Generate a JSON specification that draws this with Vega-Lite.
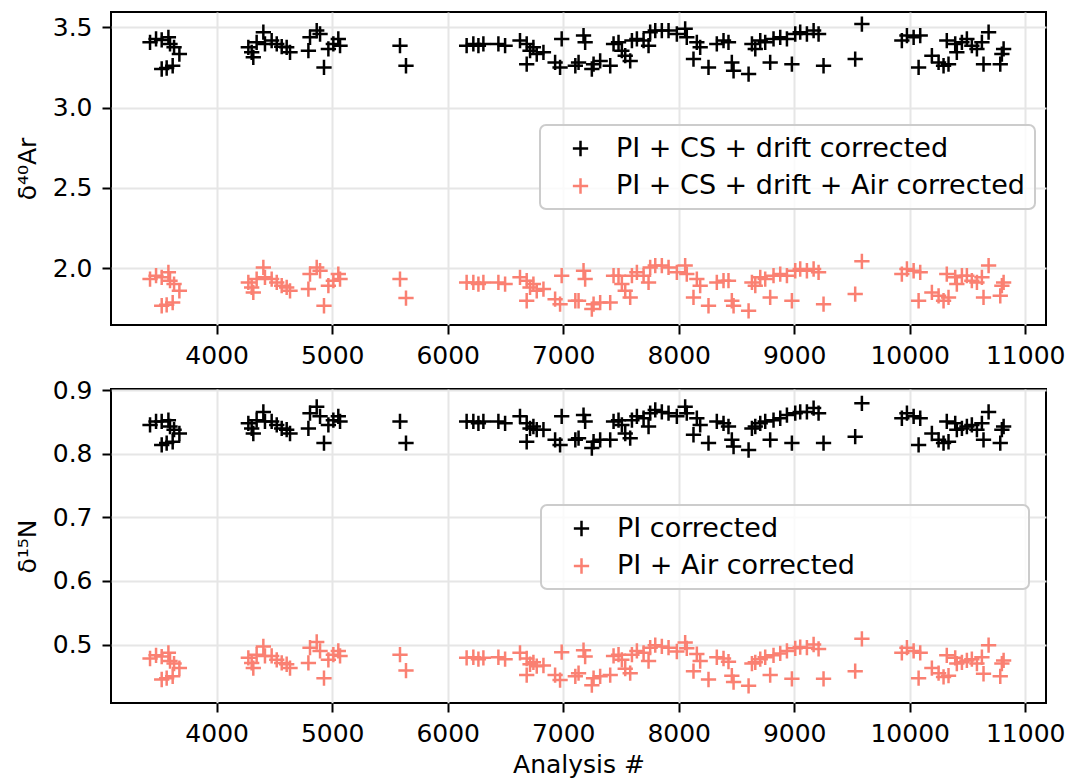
{
  "$schema": "https://vega.github.io/schema/vega-lite/v6.json",
  "background": "white",
  "padding": {"left": 14, "top": 10, "right": 20, "bottom": 0},
  "datasets": {
    "runs": [
      {"a": 3423, "ar": 3.406, "ar_air": 1.931, "n": 0.8455, "n_air": 0.478},
      {"a": 3475, "ar": 3.427, "ar_air": 1.952, "n": 0.851, "n_air": 0.483},
      {"a": 3524, "ar": 3.421, "ar_air": 1.942, "n": 0.851, "n_air": 0.481},
      {"a": 3582, "ar": 3.4375, "ar_air": 1.973, "n": 0.853, "n_air": 0.487},
      {"a": 3596, "ar": 3.396, "ar_air": 1.921, "n": 0.843, "n_air": 0.474},
      {"a": 3631, "ar": 3.375, "ar_air": 1.9, "n": 0.838, "n_air": 0.47},
      {"a": 3677, "ar": 3.333, "ar_air": 1.858, "n": 0.832, "n_air": 0.463},
      {"a": 3524, "ar": 3.24, "ar_air": 1.765, "n": 0.814, "n_air": 0.445},
      {"a": 3567, "ar": 3.246, "ar_air": 1.771, "n": 0.817, "n_air": 0.447},
      {"a": 3619, "ar": 3.26, "ar_air": 1.785, "n": 0.819, "n_air": 0.45},
      {"a": 4274, "ar": 3.375, "ar_air": 1.91, "n": 0.848, "n_air": 0.479},
      {"a": 4303, "ar": 3.344, "ar_air": 1.879, "n": 0.84, "n_air": 0.471},
      {"a": 4317, "ar": 3.3125, "ar_air": 1.848, "n": 0.832, "n_air": 0.463},
      {"a": 4346, "ar": 3.406, "ar_air": 1.931, "n": 0.853, "n_air": 0.484},
      {"a": 4404, "ar": 3.469, "ar_air": 2.004, "n": 0.866, "n_air": 0.497},
      {"a": 4418, "ar": 3.396, "ar_air": 1.942, "n": 0.851, "n_air": 0.482},
      {"a": 4476, "ar": 3.417, "ar_air": 1.931, "n": 0.851, "n_air": 0.482},
      {"a": 4520, "ar": 3.396, "ar_air": 1.91, "n": 0.8455, "n_air": 0.476},
      {"a": 4563, "ar": 3.379, "ar_air": 1.89, "n": 0.84, "n_air": 0.471},
      {"a": 4606, "ar": 3.375, "ar_air": 1.879, "n": 0.838, "n_air": 0.469},
      {"a": 4635, "ar": 3.344, "ar_air": 1.858, "n": 0.832, "n_air": 0.463},
      {"a": 4794, "ar": 3.354, "ar_air": 1.869, "n": 0.84, "n_air": 0.471},
      {"a": 4808, "ar": 3.4375, "ar_air": 1.9625, "n": 0.864, "n_air": 0.495},
      {"a": 4866, "ar": 3.479, "ar_air": 2.004, "n": 0.874, "n_air": 0.504},
      {"a": 4895, "ar": 3.458, "ar_air": 1.983, "n": 0.859, "n_air": 0.49},
      {"a": 4929, "ar": 3.25, "ar_air": 1.765, "n": 0.817, "n_air": 0.447},
      {"a": 4967, "ar": 3.365, "ar_air": 1.89, "n": 0.8455, "n_air": 0.476},
      {"a": 5010, "ar": 3.396, "ar_air": 1.921, "n": 0.853, "n_air": 0.484},
      {"a": 5053, "ar": 3.427, "ar_air": 1.9625, "n": 0.859, "n_air": 0.49},
      {"a": 5068, "ar": 3.385, "ar_air": 1.931, "n": 0.851, "n_air": 0.482},
      {"a": 5587, "ar": 3.385, "ar_air": 1.931, "n": 0.851, "n_air": 0.484},
      {"a": 5639, "ar": 3.26, "ar_air": 1.8125, "n": 0.817, "n_air": 0.459},
      {"a": 6164, "ar": 3.385, "ar_air": 1.91, "n": 0.851, "n_air": 0.479},
      {"a": 6222, "ar": 3.396, "ar_air": 1.91, "n": 0.851, "n_air": 0.48},
      {"a": 6266, "ar": 3.385, "ar_air": 1.9, "n": 0.848, "n_air": 0.477},
      {"a": 6309, "ar": 3.396, "ar_air": 1.91, "n": 0.851, "n_air": 0.479},
      {"a": 6439, "ar": 3.396, "ar_air": 1.91, "n": 0.851, "n_air": 0.48},
      {"a": 6497, "ar": 3.385, "ar_air": 1.9, "n": 0.848, "n_air": 0.477},
      {"a": 6626, "ar": 3.417, "ar_air": 1.942, "n": 0.859, "n_air": 0.487},
      {"a": 6684, "ar": 3.396, "ar_air": 1.921, "n": 0.848, "n_air": 0.478},
      {"a": 6713, "ar": 3.354, "ar_air": 1.879, "n": 0.84, "n_air": 0.469},
      {"a": 6742, "ar": 3.375, "ar_air": 1.9, "n": 0.843, "n_air": 0.472},
      {"a": 6684, "ar": 3.27, "ar_air": 1.796, "n": 0.819, "n_air": 0.452},
      {"a": 6771, "ar": 3.333, "ar_air": 1.858, "n": 0.838, "n_air": 0.466},
      {"a": 6829, "ar": 3.344, "ar_air": 1.869, "n": 0.838, "n_air": 0.467},
      {"a": 6930, "ar": 3.281, "ar_air": 1.806, "n": 0.822, "n_air": 0.452},
      {"a": 6987, "ar": 3.427, "ar_air": 1.952, "n": 0.859, "n_air": 0.488},
      {"a": 6973, "ar": 3.25, "ar_air": 1.775, "n": 0.814, "n_air": 0.444},
      {"a": 7105, "ar": 3.26, "ar_air": 1.796, "n": 0.822, "n_air": 0.45},
      {"a": 7176, "ar": 3.448, "ar_air": 1.983, "n": 0.861, "n_air": 0.491},
      {"a": 7190, "ar": 3.406, "ar_air": 1.931, "n": 0.851, "n_air": 0.481},
      {"a": 7133, "ar": 3.281, "ar_air": 1.796, "n": 0.8246, "n_air": 0.455},
      {"a": 7248, "ar": 3.24, "ar_air": 1.744, "n": 0.809, "n_air": 0.436},
      {"a": 7263, "ar": 3.27, "ar_air": 1.775, "n": 0.819, "n_air": 0.447},
      {"a": 7320, "ar": 3.29, "ar_air": 1.785, "n": 0.822, "n_air": 0.45},
      {"a": 7407, "ar": 3.26, "ar_air": 1.785, "n": 0.822, "n_air": 0.452},
      {"a": 7436, "ar": 3.396, "ar_air": 1.952, "n": 0.851, "n_air": 0.482},
      {"a": 7479, "ar": 3.406, "ar_air": 1.952, "n": 0.853, "n_air": 0.484},
      {"a": 7508, "ar": 3.354, "ar_air": 1.9, "n": 0.8455, "n_air": 0.476},
      {"a": 7537, "ar": 3.323, "ar_air": 1.858, "n": 0.832, "n_air": 0.462},
      {"a": 7580, "ar": 3.29, "ar_air": 1.817, "n": 0.8246, "n_air": 0.455},
      {"a": 7595, "ar": 3.417, "ar_air": 1.952, "n": 0.853, "n_air": 0.484},
      {"a": 7638, "ar": 3.427, "ar_air": 1.973, "n": 0.859, "n_air": 0.49},
      {"a": 7696, "ar": 3.417, "ar_air": 1.952, "n": 0.856, "n_air": 0.487},
      {"a": 7739, "ar": 3.385, "ar_air": 1.91, "n": 0.843, "n_air": 0.474},
      {"a": 7753, "ar": 3.469, "ar_air": 2.004, "n": 0.864, "n_air": 0.495},
      {"a": 7797, "ar": 3.479, "ar_air": 2.015, "n": 0.869, "n_air": 0.499},
      {"a": 7854, "ar": 3.479, "ar_air": 2.015, "n": 0.866, "n_air": 0.497},
      {"a": 7912, "ar": 3.479, "ar_air": 2.004, "n": 0.864, "n_air": 0.495},
      {"a": 7984, "ar": 3.458, "ar_air": 1.973, "n": 0.859, "n_air": 0.489},
      {"a": 8056, "ar": 3.49, "ar_air": 2.015, "n": 0.874, "n_air": 0.503},
      {"a": 8070, "ar": 3.4375, "ar_air": 1.9625, "n": 0.864, "n_air": 0.494},
      {"a": 8128, "ar": 3.302, "ar_air": 1.817, "n": 0.83, "n_air": 0.458},
      {"a": 8157, "ar": 3.406, "ar_air": 1.931, "n": 0.856, "n_air": 0.485},
      {"a": 8186, "ar": 3.375, "ar_air": 1.89, "n": 0.8455, "n_air": 0.474},
      {"a": 8258, "ar": 3.25, "ar_air": 1.765, "n": 0.817, "n_air": 0.445},
      {"a": 8330, "ar": 3.396, "ar_air": 1.91, "n": 0.851, "n_air": 0.48},
      {"a": 8388, "ar": 3.417, "ar_air": 1.921, "n": 0.848, "n_air": 0.478},
      {"a": 8431, "ar": 3.406, "ar_air": 1.921, "n": 0.843, "n_air": 0.473},
      {"a": 8460, "ar": 3.281, "ar_air": 1.796, "n": 0.822, "n_air": 0.451},
      {"a": 8475, "ar": 3.229, "ar_air": 1.765, "n": 0.8115, "n_air": 0.441},
      {"a": 8605, "ar": 3.208, "ar_air": 1.733, "n": 0.806, "n_air": 0.435},
      {"a": 8634, "ar": 3.396, "ar_air": 1.91, "n": 0.84, "n_air": 0.47},
      {"a": 8663, "ar": 3.365, "ar_air": 1.89, "n": 0.843, "n_air": 0.472},
      {"a": 8706, "ar": 3.417, "ar_air": 1.942, "n": 0.848, "n_air": 0.477},
      {"a": 8749, "ar": 3.406, "ar_air": 1.931, "n": 0.851, "n_air": 0.48},
      {"a": 8792, "ar": 3.281, "ar_air": 1.817, "n": 0.822, "n_air": 0.452},
      {"a": 8821, "ar": 3.427, "ar_air": 1.952, "n": 0.853, "n_air": 0.483},
      {"a": 8879, "ar": 3.4375, "ar_air": 1.9625, "n": 0.856, "n_air": 0.486},
      {"a": 8937, "ar": 3.427, "ar_air": 1.952, "n": 0.861, "n_air": 0.49},
      {"a": 8980, "ar": 3.27, "ar_air": 1.796, "n": 0.817, "n_air": 0.446},
      {"a": 9009, "ar": 3.458, "ar_air": 1.983, "n": 0.864, "n_air": 0.494},
      {"a": 9052, "ar": 3.469, "ar_air": 1.994, "n": 0.866, "n_air": 0.496},
      {"a": 9110, "ar": 3.458, "ar_air": 1.983, "n": 0.866, "n_air": 0.495},
      {"a": 9168, "ar": 3.479, "ar_air": 1.994, "n": 0.872, "n_air": 0.5},
      {"a": 9211, "ar": 3.458, "ar_air": 1.973, "n": 0.864, "n_air": 0.493},
      {"a": 9254, "ar": 3.26, "ar_air": 1.775, "n": 0.817, "n_air": 0.446},
      {"a": 9528, "ar": 3.302, "ar_air": 1.8375, "n": 0.827, "n_air": 0.458},
      {"a": 9586, "ar": 3.52, "ar_air": 2.042, "n": 0.8795, "n_air": 0.509},
      {"a": 9932, "ar": 3.417, "ar_air": 1.9625, "n": 0.856, "n_air": 0.487},
      {"a": 9976, "ar": 3.448, "ar_air": 1.994, "n": 0.864, "n_air": 0.495},
      {"a": 10034, "ar": 3.4375, "ar_air": 1.983, "n": 0.859, "n_air": 0.49},
      {"a": 10091, "ar": 3.448, "ar_air": 1.973, "n": 0.856, "n_air": 0.487},
      {"a": 10077, "ar": 3.25, "ar_air": 1.796, "n": 0.814, "n_air": 0.447},
      {"a": 10192, "ar": 3.323, "ar_air": 1.848, "n": 0.832, "n_air": 0.463},
      {"a": 10250, "ar": 3.281, "ar_air": 1.827, "n": 0.822, "n_air": 0.455},
      {"a": 10293, "ar": 3.26, "ar_air": 1.796, "n": 0.817, "n_air": 0.449},
      {"a": 10336, "ar": 3.27, "ar_air": 1.817, "n": 0.819, "n_air": 0.451},
      {"a": 10321, "ar": 3.417, "ar_air": 1.9625, "n": 0.851, "n_air": 0.483},
      {"a": 10394, "ar": 3.396, "ar_air": 1.942, "n": 0.848, "n_air": 0.479},
      {"a": 10408, "ar": 3.344, "ar_air": 1.9, "n": 0.838, "n_air": 0.47},
      {"a": 10452, "ar": 3.406, "ar_air": 1.952, "n": 0.84, "n_air": 0.472},
      {"a": 10495, "ar": 3.427, "ar_air": 1.952, "n": 0.843, "n_air": 0.475},
      {"a": 10538, "ar": 3.385, "ar_air": 1.921, "n": 0.8455, "n_air": 0.477},
      {"a": 10582, "ar": 3.365, "ar_air": 1.91, "n": 0.838, "n_air": 0.47},
      {"a": 10625, "ar": 3.406, "ar_air": 1.942, "n": 0.848, "n_air": 0.48},
      {"a": 10683, "ar": 3.469, "ar_air": 2.015, "n": 0.866, "n_air": 0.499},
      {"a": 10639, "ar": 3.27, "ar_air": 1.817, "n": 0.822, "n_air": 0.454},
      {"a": 10798, "ar": 3.333, "ar_air": 1.89, "n": 0.838, "n_air": 0.47},
      {"a": 10813, "ar": 3.365, "ar_air": 1.91, "n": 0.843, "n_air": 0.475},
      {"a": 10784, "ar": 3.27, "ar_air": 1.827, "n": 0.817, "n_air": 0.45}
    ]
  },
  "spacing": 8,
  "resolve": {"scale": {"color": "independent", "y": "independent"}},
  "vconcat": [
    {
      "width": 935,
      "height": 313,
      "data": {"name": "runs"},
      "transform": [{"fold": ["ar", "ar_air"], "as": ["series", "value"]}],
      "mark": {"type": "point", "shape": "M-1,0H1M0,-1V1", "filled": false, "size": 234, "strokeWidth": 2.5, "opacity": 1},
      "encoding": {
        "x": {
          "field": "a",
          "type": "quantitative",
          "scale": {"domain": [3085, 11180], "nice": false, "zero": false},
          "axis": {"title": null, "values": [4000, 5000, 6000, 7000, 8000, 9000, 10000, 11000], "format": "d"}
        },
        "y": {
          "field": "value",
          "type": "quantitative",
          "scale": {"domain": [1.645, 3.595], "nice": false, "zero": false},
          "axis": {"title": "δ⁴⁰Ar", "values": [2.0, 2.5, 3.0, 3.5], "format": ".1f"}
        },
        "color": {
          "field": "series",
          "type": "nominal",
          "scale": {"domain": ["ar", "ar_air"], "range": ["#000000", "#fa8072"]},
          "legend": {
            "title": null,
            "orient": "none",
            "legendX": 429,
            "legendY": 113,
            "labelExpr": "datum.label == 'ar' ? 'PI + CS + drift corrected' : 'PI + CS + drift + Air corrected'"
          }
        }
      }
    },
    {
      "width": 935,
      "height": 314,
      "data": {"name": "runs"},
      "transform": [{"fold": ["n", "n_air"], "as": ["series", "value"]}],
      "mark": {"type": "point", "shape": "M-1,0H1M0,-1V1", "filled": false, "size": 234, "strokeWidth": 2.5, "opacity": 1},
      "encoding": {
        "x": {
          "field": "a",
          "type": "quantitative",
          "scale": {"domain": [3085, 11180], "nice": false, "zero": false},
          "axis": {"title": "Analysis #", "values": [4000, 5000, 6000, 7000, 8000, 9000, 10000, 11000], "format": "d"}
        },
        "y": {
          "field": "value",
          "type": "quantitative",
          "scale": {"domain": [0.408, 0.902], "nice": false, "zero": false},
          "axis": {"title": "δ¹⁵N", "values": [0.5, 0.6, 0.7, 0.8, 0.9], "format": ".1f"}
        },
        "color": {
          "field": "series",
          "type": "nominal",
          "scale": {"domain": ["n", "n_air"], "range": ["#000000", "#fa8072"]},
          "legend": {
            "title": null,
            "orient": "none",
            "legendX": 430,
            "legendY": 116,
            "labelExpr": "datum.label == 'n' ? 'PI corrected' : 'PI + Air corrected\u00a0\u00a0\u00a0\u00a0\u00a0\u00a0\u00a0\u00a0\u00a0\u00a0\u00a0\u00a0\u00a0\u00a0\u00a0\u00a0\u00a0\u00a0\u00a0\u200b'"
          }
        }
      }
    }
  ],
  "config": {
    "font": "DejaVu Sans",
    "view": {"stroke": "#000000", "strokeWidth": 2},
    "axis": {
      "labelFont": "DejaVu Sans",
      "labelFontSize": 25,
      "labelColor": "#000000",
      "titleFont": "DejaVu Sans",
      "titleFontSize": 25,
      "titleFontWeight": "normal",
      "titleColor": "#000000",
      "domain": false,
      "tickColor": "#000000",
      "tickWidth": 2,
      "tickSize": 9,
      "labelPadding": 9,
      "gridColor": "#e6e6e6",
      "gridWidth": 2,
      "labelFlush": false,
      "labelOverlap": false
    },
    "axisY": {"titlePadding": 12, "labelPadding": 10},
    "axisX": {"titlePadding": 6},
    "legend": {
      "labelFont": "DejaVu Sans",
      "labelFontSize": 27,
      "labelColor": "#000000",
      "labelLimit": 600,
      "symbolType": "M-1,0H1M0,-1V1",
      "symbolSize": 234,
      "symbolStrokeWidth": 2.5,
      "symbolOffset": 17,
      "labelOffset": 22,
      "padding": 10,
      "rowPadding": 9.5,
      "fillColor": "rgba(255,255,255,0.8)",
      "strokeColor": "#cccccc",
      "strokeWidth": 2,
      "cornerRadius": 6
    }
  }
}
